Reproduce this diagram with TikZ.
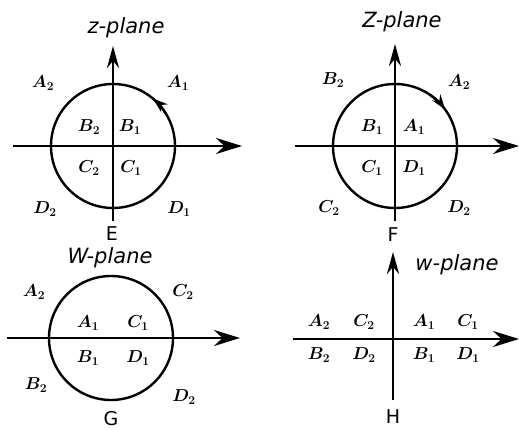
\documentclass[tikz,border=0pt]{standalone}
\usepackage{fontspec}
\setsansfont{DejaVu Sans}
\usetikzlibrary{arrows.meta}
\begin{document}
\begin{tikzpicture}[x=1pt,y=-1pt,
  vaxis/.style={line width=2.8pt,-{Stealth[length=22pt,width=12pt]}},
  haxis/.style={line width=2.8pt,-{Stealth[length=26pt,width=16pt]}},
  ring/.style={line width=2.4pt},
  spin/.style={line width=2.4pt,-{Stealth[length=15pt,width=10pt]}},
  lab/.style={inner sep=0pt,font=\fontsize{18}{20}\selectfont\boldmath},
  ttl/.style={inner sep=0pt,font=\sffamily\itshape\fontsize{21}{22}\selectfont},
  pt/.style={inner sep=0pt,font=\sffamily\fontsize{19}{20}\selectfont}]
\useasboundingbox (0,0) rectangle (519,430);
% ---- z-plane
\coordinate (zc) at (113,146);
\coordinate (zb) at (113,221);
\coordinate (zt) at (113,46);
\coordinate (zl) at (13,146);
\coordinate (zr) at (242,146);
\draw[ring] (zc) circle[radius=62pt];
\draw[vaxis] (zb) -- (zt);
\draw[haxis] (zl) -- (zr);
\draw[spin] (zc) ++(32:62pt) arc (32:50:62pt);
\node[ttl] (zt1) at (126,28) {z-plane};
\node[lab] (za2) at (43,83) {$A_2$};
\node[lab] (za1) at (178,83) {$A_1$};
\node[lab] (zb2) at (89,127) {$B_2$};
\node[lab] (zb1) at (130,127) {$B_1$};
\node[lab] (zc2) at (89,168) {$C_2$};
\node[lab] (zc1) at (131,168) {$C_1$};
\node[lab] (zd2) at (45,209) {$D_2$};
\node[lab] (zd1) at (179,209) {$D_1$};
\node[pt] (E) at (112,234) {E};
% ---- Z-plane
\coordinate (Zc) at (395,146);
\coordinate (Zb) at (395,221);
\coordinate (Zt) at (395,44);
\coordinate (Zl) at (295,146);
\coordinate (Zr) at (519,146);
\draw[ring] (Zc) circle[radius=62pt];
\draw[vaxis] (Zb) -- (Zt);
\draw[haxis] (Zl) -- (Zr);
\draw[spin] (Zc) ++(55:62pt) arc (55:36:62pt);
\node[ttl] (Zt1) at (402,22) {Z-plane};
\node[lab] (Zb2) at (333,80) {$B_2$};
\node[lab] (Za2) at (459,82) {$A_2$};
\node[lab] (Zb1) at (372,127) {$B_1$};
\node[lab] (Za1) at (414,127) {$A_1$};
\node[lab] (Zc1) at (372,168) {$C_1$};
\node[lab] (Zd1) at (414,168) {$D_1$};
\node[lab] (Zc2) at (329,208) {$C_2$};
\node[lab] (Zd2) at (459,208) {$D_2$};
\node[pt] (F) at (393,235) {F};
% ---- W-plane
\coordinate (Wc) at (111,338);
\coordinate (Wl) at (7,338);
\coordinate (Wr) at (240,338);
\draw[ring] (Wc) circle[radius=62pt];
\draw[haxis] (Wl) -- (Wr);
\node[ttl] (Wt1) at (110,258) {W-plane};
\node[lab] (Wa2) at (34,292) {$A_2$};
\node[lab] (Wc2) at (183,292) {$C_2$};
\node[lab] (Wa1) at (88,323) {$A_1$};
\node[lab] (Wc1) at (138,323) {$C_1$};
\node[lab] (Wb1) at (88,358) {$B_1$};
\node[lab] (Wd1) at (138,358) {$D_1$};
\node[lab] (Wb2) at (36,385) {$B_2$};
\node[lab] (Wd2) at (184,397) {$D_2$};
\node[pt] (G) at (111,419) {G};
% ---- w-plane
\coordinate (wb) at (393,400);
\coordinate (wt) at (393,252);
\coordinate (wl) at (293,339);
\coordinate (wr) at (519,339);
\draw[vaxis] (wb) -- (wt);
\draw[haxis] (wl) -- (wr);
\node[ttl] (wt1) at (457,265) {w-plane};
\node[lab] (wa2) at (319,322) {$A_2$};
\node[lab] (wc2) at (364,322) {$C_2$};
\node[lab] (wa1) at (424,322) {$A_1$};
\node[lab] (wc1) at (468,322) {$C_1$};
\node[lab] (wb2) at (319,355) {$B_2$};
\node[lab] (wd2) at (364,355) {$D_2$};
\node[lab] (wb1) at (424,355) {$B_1$};
\node[lab] (wd1) at (468,355) {$D_1$};
\node[pt] (H) at (393,417) {H};
\end{tikzpicture}
\end{document}
